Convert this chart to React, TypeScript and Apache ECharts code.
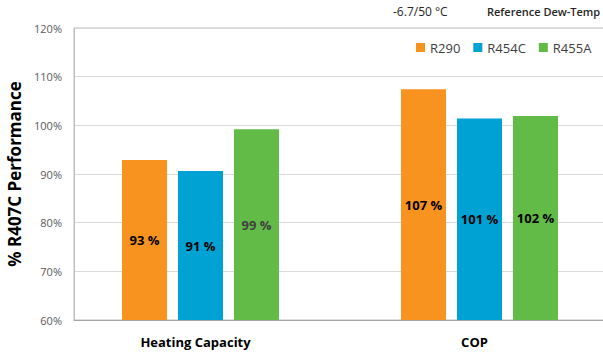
import { useEffect, useRef } from 'react';
import * as echarts from 'echarts';

const categories = ['Heating Capacity', 'COP'];
const seriesNames = ['R290', 'R454C', 'R455A'];
const r290 = [92.9, 107.4];
const r454c = [90.6, 101.4];
const r455a = [99.2, 101.9];
const seriesColors = ['#F7931E', '#00A2D3', '#62BB47'];
const conditionText = '-6.7/50 °C';
const referenceText = 'Reference Dew-Temp';
const yName = '% R407C Performance';

const FONT = '"Open Sans", "Noto Sans", sans-serif';

export default function App() {
  const ref = useRef<HTMLDivElement>(null);
  useEffect(() => {
    const chart = echarts.init(ref.current!, null, { renderer: 'svg' });
    const values = [r290, r454c, r455a];
    const barSeries: any[] = seriesNames.map((name, i) => ({
      name,
      type: 'bar',
      barWidth: 45,
      barGap: '24.4%',
      barCategoryGap: '0%',
      itemStyle: { color: seriesColors[i] },
      label: {
        show: true,
        position: 'inside',
        fontFamily: FONT,
        fontWeight: 'bold',
        fontSize: 13,
        color: '#000',
        formatter: (p: any) => `${Math.round(p.value)} %`,
      },
      data: values[i].map((v, j) =>
        i === 2 && j === 0 ? { value: v, label: { color: '#404040' } } : v
      ),
    }));
    // spacer slot to reproduce the off-centre cluster placement of the original
    barSeries.push({
      name: 'spacer',
      type: 'bar',
      barWidth: 15,
      barGap: '24.4%',
      silent: true,
      data: [null, null],
    });
    chart.setOption({
      animation: false,
      textStyle: { fontFamily: FONT },
      grid: {
        left: 74,
        top: 28,
        width: 558,
        height: 292,
        outerBoundsMode: 'none',
        containLabel: false,
        show: true,
        borderColor: '#BFBFBF',
        borderWidth: 1,
      },
      legend: {
        data: seriesNames,
        left: 411,
        top: 36,
        icon: 'rect',
        itemWidth: 9,
        itemHeight: 9,
        itemGap: 13,
        textStyle: { fontFamily: FONT, fontSize: 13, color: '#404040' },
      },
      xAxis: {
        type: 'category',
        data: categories,
        axisTick: { show: false },
        axisLine: { lineStyle: { color: '#A6A6A6' } },
        axisLabel: {
          fontFamily: FONT,
          fontWeight: 'bold',
          fontSize: 13,
          color: '#000',
          margin: 15,
          padding: [0, 36, 0, 0],
        },
      },
      yAxis: {
        type: 'value',
        min: 60,
        max: 120,
        interval: 10,
        name: yName,
        nameLocation: 'middle',
        nameGap: 46,
        nameTextStyle: { fontFamily: FONT, fontWeight: 'bold', fontSize: 17, color: '#000' },
        axisLine: { show: true, lineStyle: { color: '#BFBFBF' } },
        axisTick: { show: false },
        axisLabel: { formatter: '{value}%', fontFamily: FONT, fontSize: 11, color: '#595959', margin: 12 },
        splitLine: { lineStyle: { color: '#D9D9D9' } },
      },
      graphic: [
        {
          type: 'text',
          left: 393,
          top: 5,
          style: { text: conditionText, fontFamily: FONT, fontSize: 12, fill: '#262626' },
        },
        {
          type: 'text',
          left: 487,
          top: 6,
          style: { text: referenceText, fontFamily: FONT, fontSize: 11, fontWeight: 600, fill: '#262626' },
        },
      ],
      series: barSeries,
    });
    return () => chart.dispose();
  }, []);
  return (
    <div
      ref={ref}
      style={{ position: 'absolute', left: 0, top: 0, width: 603, height: 356, background: '#fff' }}
    />
  );
}
